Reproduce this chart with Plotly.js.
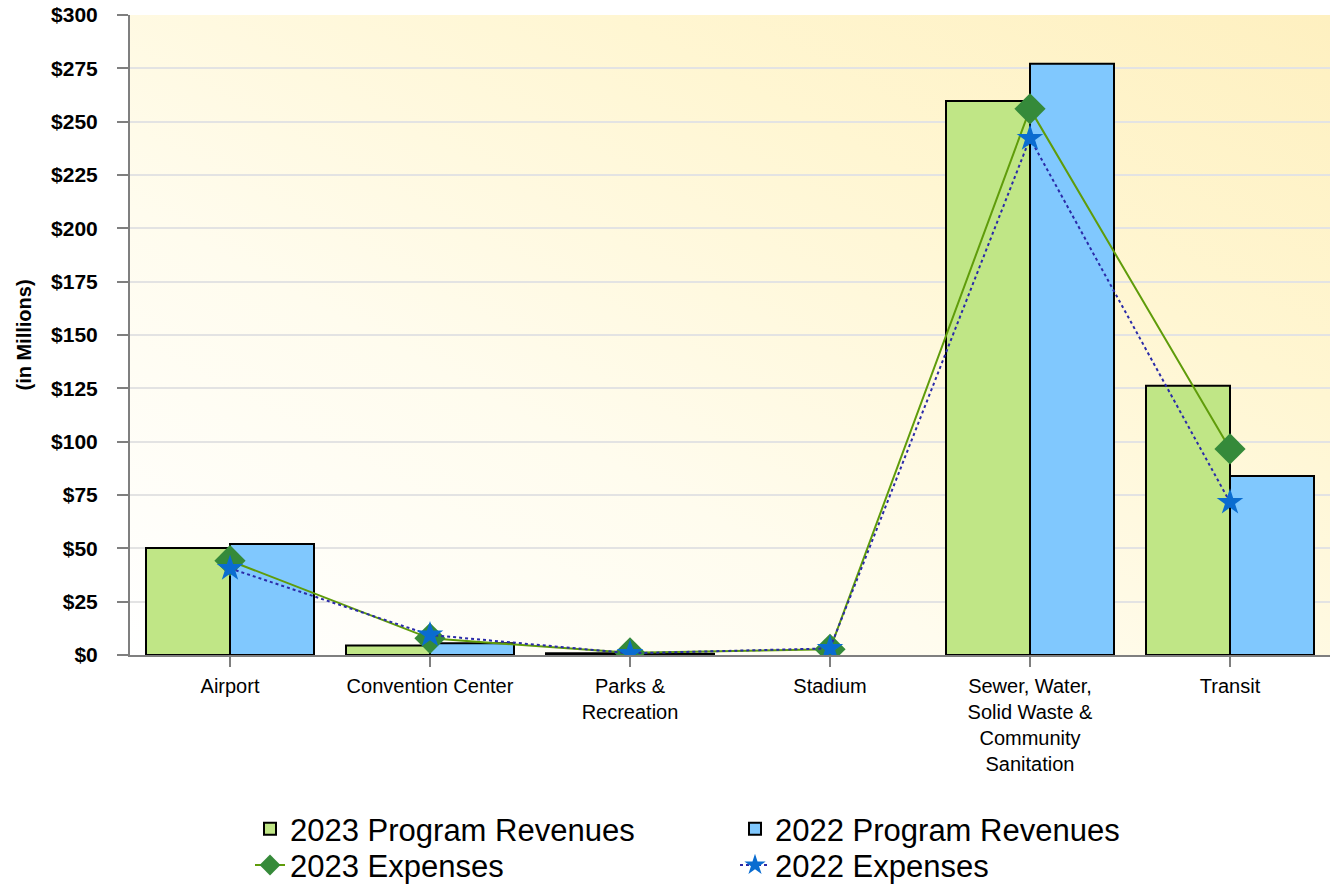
<!DOCTYPE html>
<html>
<head>
<meta charset="utf-8">
<script src="https://cdn.plot.ly/plotly-3.0.1.min.js"></script>
<style>
  html, body { margin: 0; padding: 0; background: #ffffff; }
  #wrap { position: relative; width: 1331px; height: 886px; }
  #bg { position: absolute; left: 130px; top: 15px; width: 1200px; height: 640px;
        background: linear-gradient(to top right, #ffffff 0%, #fffcee 35%, #fff6d2 70%, #fef0c0 100%); }
  #chart { position: absolute; left: 0; top: 0; width: 1331px; height: 886px; }
</style>
</head>
<body>
<div id="wrap">
  <div id="bg"></div>
  <div id="chart"></div>
</div>
<script>
const categories = ["Airport", "Convention Center", "Parks &<br>Recreation", "Stadium",
  "Sewer, Water,<br>Solid Waste &<br>Community<br>Sanitation", "Transit"];
const revenues2023 = [50.2, 4.4, 0.8, null, 259.7, 126.2];
const revenues2022 = [52.0, 5.5, 0.6, null, 277.2, 83.9];
const expenses2023 = [44.2, 7.8, 1.0, 2.7, 256.0, 96.6];
const expenses2022 = [40.6, 9.4, 0.8, 3.1, 242.2, 71.6];
const yTickVals = [0, 25, 50, 75, 100, 125, 150, 175, 200, 225, 250, 275, 300];
const yTickText = yTickVals.map(v => "$" + v);

const traces = [
  { type: "bar", name: "2023 Program Revenues", x: categories, y: revenues2023, legend: "legend",
    marker: { color: "#c0e686", line: { color: "#000000", width: 2 } } },
  { type: "bar", name: "2022 Program Revenues", x: categories, y: revenues2022, legend: "legend",
    marker: { color: "#80c8fe", line: { color: "#000000", width: 2 } } },
  { type: "scatter", mode: "lines+markers", name: "2023 Expenses", x: categories, y: expenses2023,
    legend: "legend2",
    line: { color: "#5f9c0a", width: 2 },
    marker: { symbol: "diamond", size: 24, color: "#358a3a" } },
  { type: "scatter", mode: "lines+markers", name: "2022 Expenses", x: categories, y: expenses2022,
    legend: "legend2",
    line: { color: "#2a2aa8", width: 2, dash: "dot" },
    marker: { symbol: "star", size: 20, color: "#0a6cd0" } }
];

const legendCommon = {
  orientation: "h", x: 0.1, xanchor: "left", yanchor: "top",
  font: { size: 31, color: "#000000" },
  entrywidth: 440, entrywidthmode: "pixels",
  traceorder: "normal", bgcolor: "rgba(0,0,0,0)"
};

const layout = {
  width: 1331, height: 886,
  margin: { l: 130, r: 1, t: 15, b: 231, autoexpand: false },
  paper_bgcolor: "rgba(0,0,0,0)",
  plot_bgcolor: "rgba(0,0,0,0)",
  font: { family: "Liberation Sans, Arial, sans-serif", color: "#000000" },
  barmode: "group",
  bargap: 0.16,
  bargroupgap: 0,
  showlegend: true,
  legend: Object.assign({}, legendCommon, { y: -0.23 }),
  legend2: Object.assign({}, legendCommon, { y: -0.2865 }),
  xaxis: {
    type: "category", automargin: false,
    showline: true, linecolor: "#7f7f7f", linewidth: 2,
    ticks: "outside", ticklen: 10, tickcolor: "#7f7f7f", tickwidth: 2,
    tickfont: { size: 20, color: "#000000" },
    ticklabelstandoff: 2,
    showgrid: false
  },
  yaxis: {
    range: [0, 300], automargin: false,
    tickvals: yTickVals, ticktext: yTickText,
    tickfont: { size: 21, color: "#000000", weight: "bold" },
    ticklabelstandoff: 15,
    showline: true, linecolor: "#7f7f7f", linewidth: 2,
    ticks: "outside", ticklen: 11, tickcolor: "#7f7f7f", tickwidth: 2,
    showgrid: true, gridcolor: "#e3e3e3", gridwidth: 2,
    zeroline: false,
    title: { text: "(in Millions)", font: { size: 20, weight: "bold" }, standoff: 14 }
  }
};

Plotly.newPlot("chart", traces, layout, { displayModeBar: false, staticPlot: true });
</script>
</body>
</html>
